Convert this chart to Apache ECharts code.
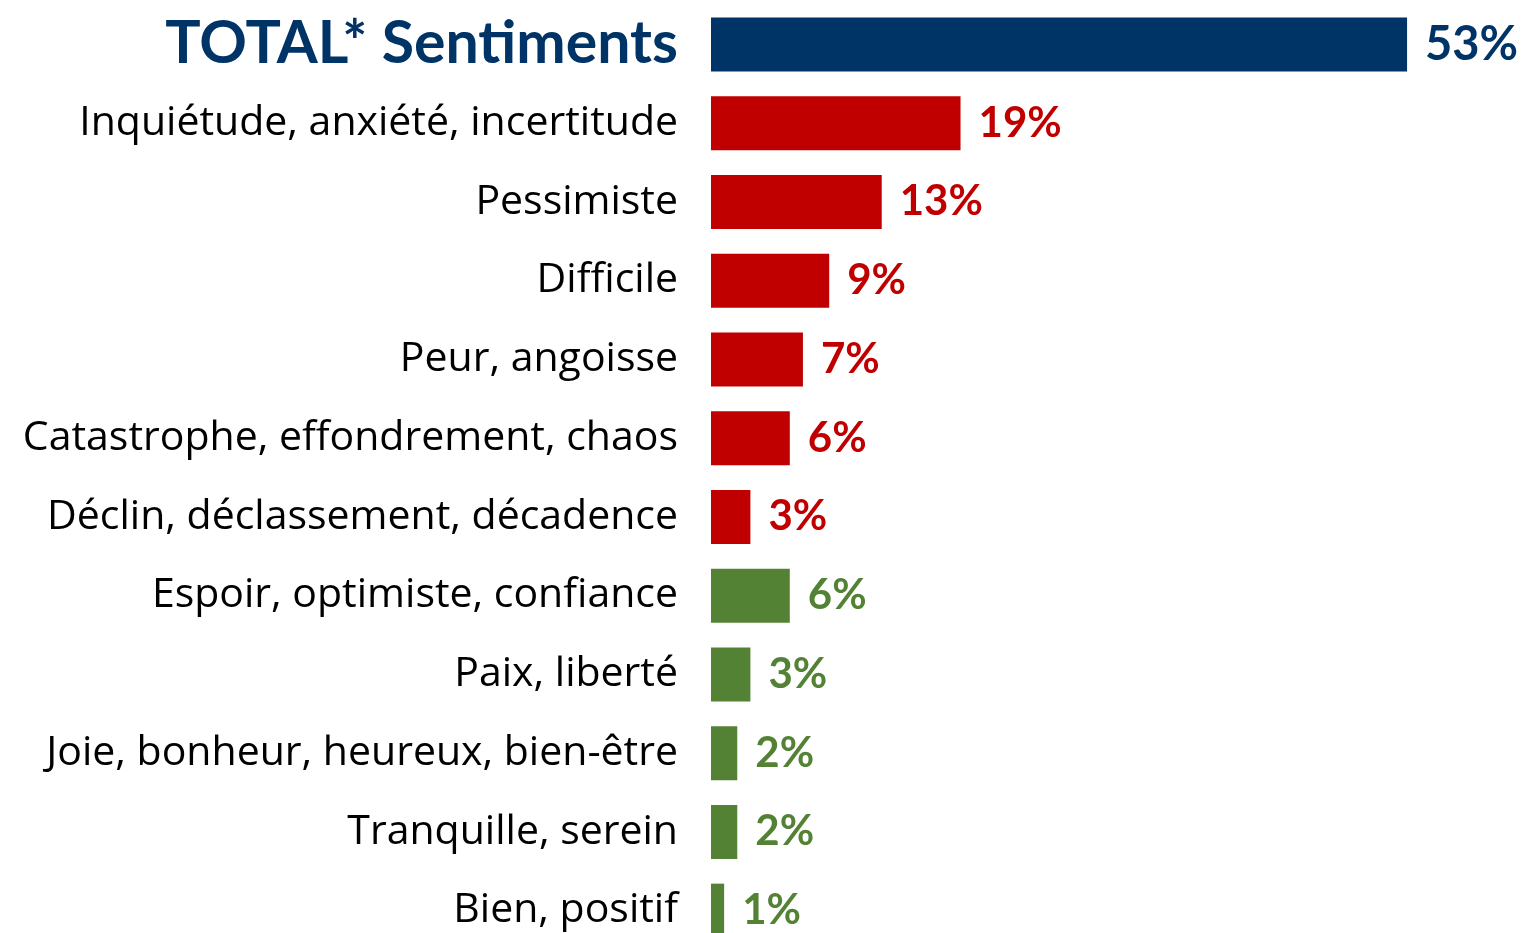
<!DOCTYPE html>
<html>
<head>
<meta charset="utf-8">
<script src="https://cdn.jsdelivr.net/npm/echarts@6/dist/echarts.min.js"></script>
<style>
  html, body { margin: 0; padding: 0; background: #fff; }
  #chart { width: 1522px; height: 933px; }
</style>
</head>
<body>
<div id="chart"></div>
<script>
// data
var categories = [
  'TOTAL* Sentiments',
  'Inquiétude, anxiété, incertitude',
  'Pessimiste',
  'Difficile',
  'Peur, angoisse',
  'Catastrophe, effondrement, chaos',
  'Déclin, déclassement, décadence',
  'Espoir, optimiste, confiance',
  'Paix, liberté',
  'Joie, bonheur, heureux, bien-être',
  'Tranquille, serein',
  'Bien, positif'
];
var values = [53, 19, 13, 9, 7, 6, 3, 6, 3, 2, 2, 1];
var groups = ['total', 'neg', 'neg', 'neg', 'neg', 'neg', 'neg', 'pos', 'pos', 'pos', 'pos', 'pos'];

var colors = { total: '#003366', neg: '#C00000', pos: '#548235' };
var labelFont = '"Open Sans", Lato, sans-serif';
var boldFont = 'Lato, "Open Sans", sans-serif';

var chart = echarts.init(document.getElementById('chart'));

chart.setOption({
  animation: false,
  grid: {
    left: 711, width: 788, top: 5, height: 945,
    containLabel: false,
    outerBoundsMode: 'none'
  },
  xAxis: {
    type: 'value',
    min: 0,
    max: 60,
    show: false
  },
  yAxis: {
    type: 'category',
    inverse: true,
    data: categories.map(function (c, i) {
      if (groups[i] === 'total') {
        return { value: c, textStyle: { color: colors.total, fontFamily: boldFont, fontWeight: 'bold', fontSize: 59 } };
      }
      return c;
    }),
    axisLine: { show: false },
    axisTick: { show: false },
    axisLabel: {
      margin: 33,
      color: '#000',
      fontFamily: labelFont,
      fontSize: 41,
      padding: [5, 0, 0, 0]
    }
  },
  series: [{
    type: 'bar',
    barWidth: 54,
    data: values.map(function (v, i) {
      var c = colors[groups[i]];
      return {
        value: v,
        itemStyle: { color: c },
        label: { color: c, fontSize: groups[i] === 'total' ? 47 : 42 }
      };
    }),
    label: {
      show: true,
      position: 'right',
      distance: 18,
      fontFamily: boldFont,
      fontWeight: 'bold',
      formatter: '{c}%'
    }
  }]
});
</script>
</body>
</html>
